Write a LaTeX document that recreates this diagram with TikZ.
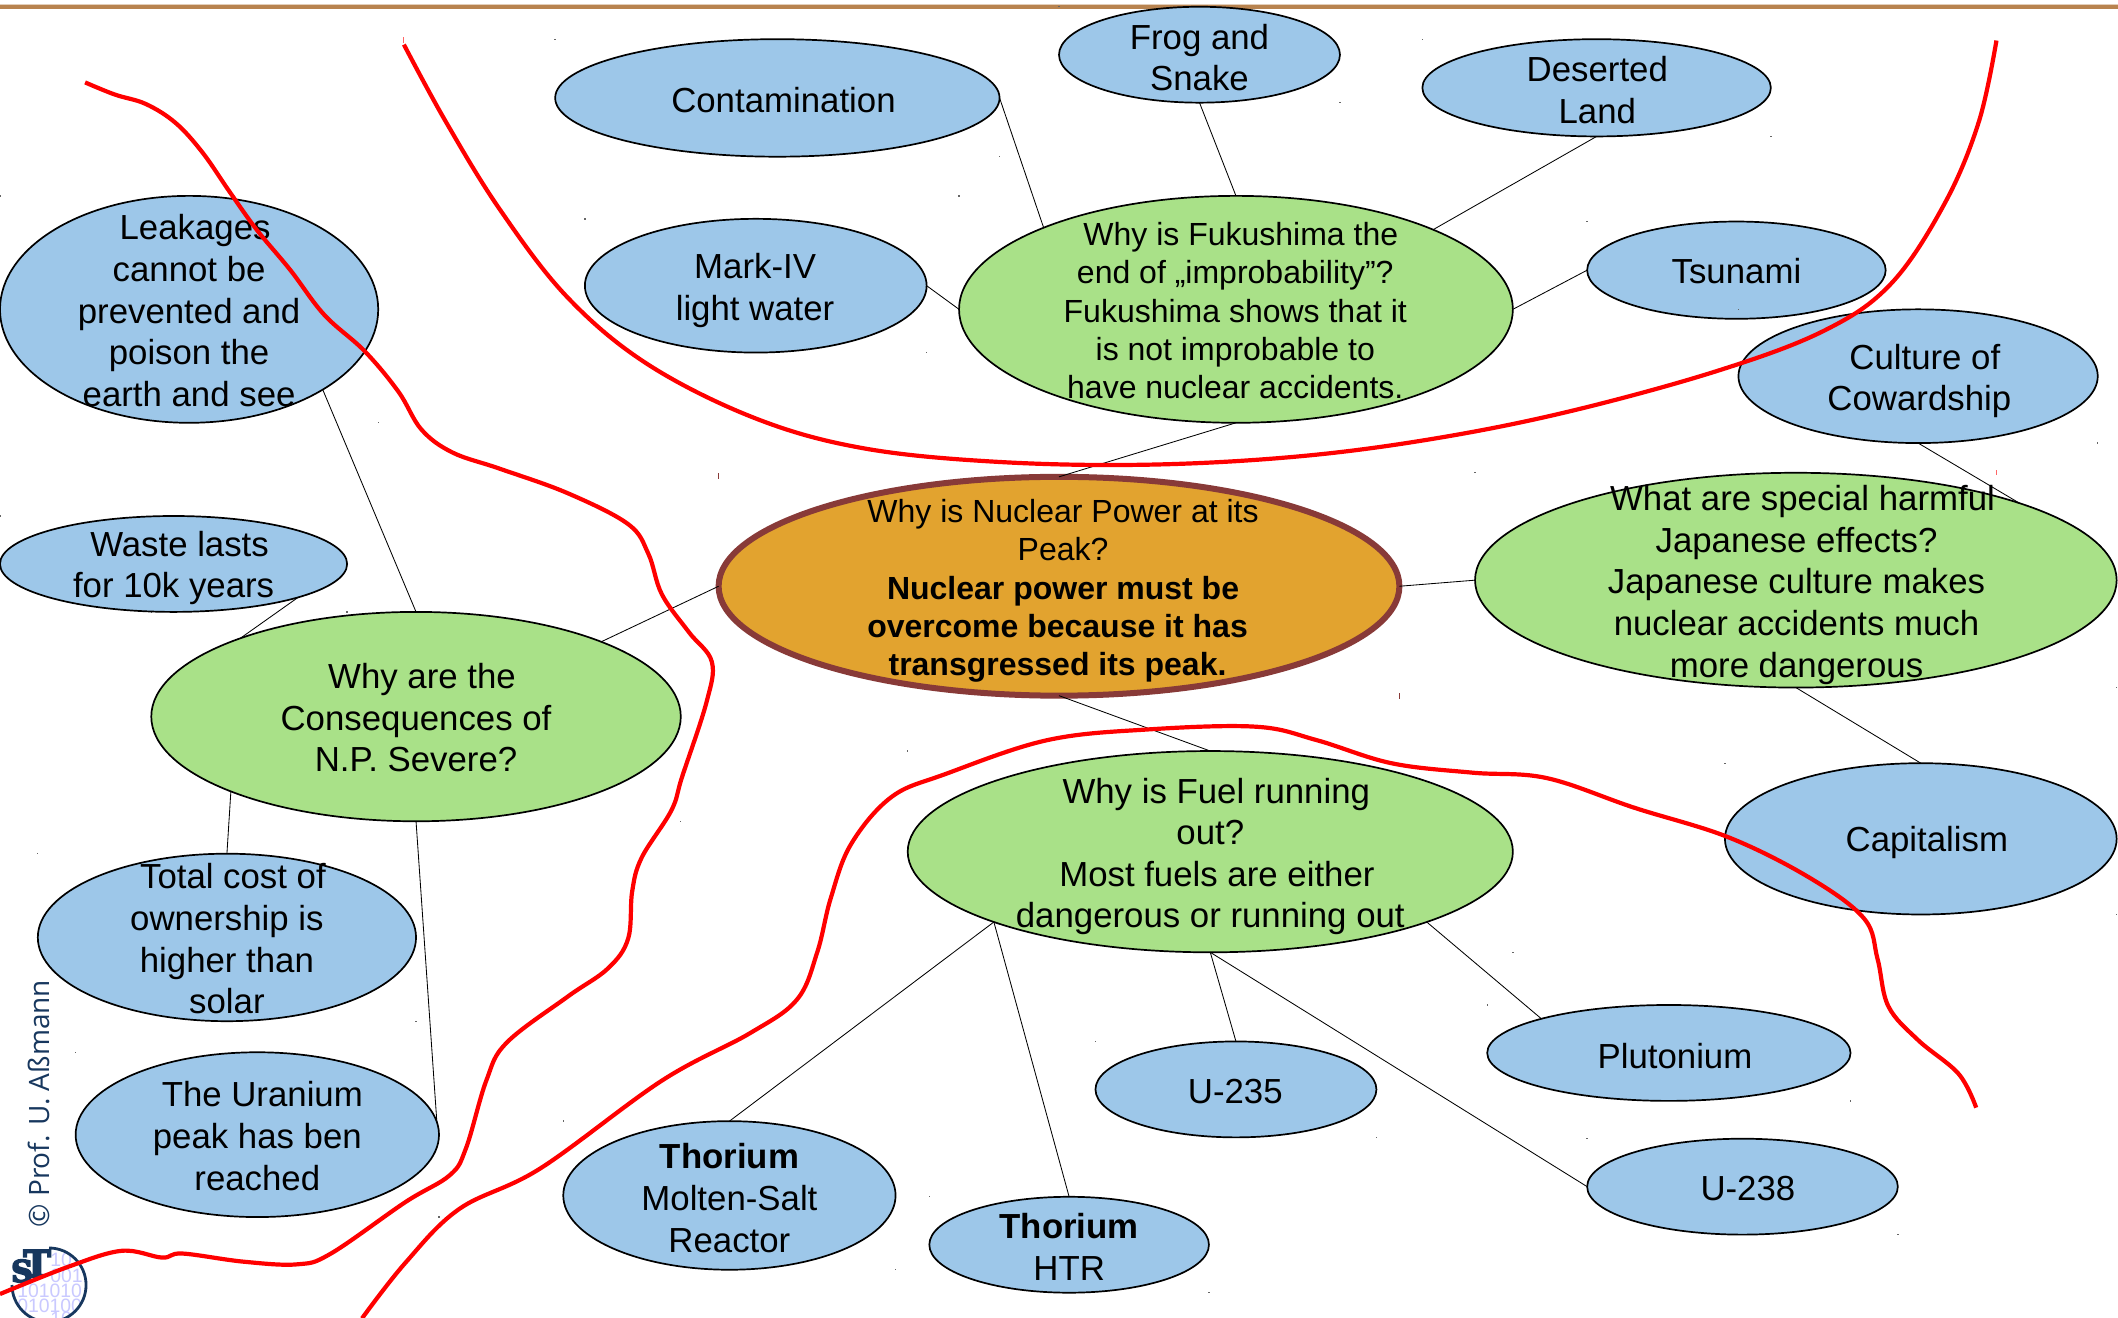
\documentclass[tikz,border=0pt]{standalone}
\usepackage{fontspec}
\setmainfont{Liberation Sans}
\newfontfamily\logofont{DejaVu Serif}
\newfontfamily\cpfont{Open Sans}
\usetikzlibrary{shapes.geometric}
\definecolor{bluefill}{HTML}{9DC7E9}
\definecolor{greenfill}{HTML}{A9E188}
\definecolor{orangefill}{HTML}{E2A32F}
\definecolor{rimcol}{HTML}{883A38}
\definecolor{navy}{HTML}{17375E}
\definecolor{lav}{HTML}{C9C9FF}
\definecolor{toprule}{HTML}{B8834F}
\def\ux{0.6754pt}
\newcommand\heavy[1]{\special{pdf:code 2 Tr 0.9 w}#1\special{pdf:code 0 Tr}}
\tikzset{
  ell/.style={ellipse,draw=black,line width=0.85pt,inner sep=0pt,outer sep=0pt},
  blueell/.style={ell,fill=bluefill},
  greenell/.style={ell,fill=greenfill},
  coreell/.style={ell,fill=orangefill,draw=rimcol,line width=3pt},
  big/.style={align=center,inner sep=0pt,font=\fontsize{17.4}{20.8}\selectfont},
  small/.style={align=center,inner sep=0pt,font=\fontsize{16}{19.15}\selectfont},
  link/.style={draw=black,line width=0.42pt},
  redline/.style={draw=red,line width=2.1pt,line join=round,smooth,tension=0.6},
  bin/.style={inner sep=0pt,text=lav,font=\fontsize{9.7}{10}\selectfont},
  logotext/.style={inner sep=0pt,text=navy},
}
\newcommand\Ell[6]{%
  \node[#2,minimum width={(#4-#3)*\ux},minimum height={(#6-#5)*\ux}] (#1) at ({(#3+#4)/2},{(#5+#6)/2}) {};
  \fill[black!60] (#3-0.5,#5-0.5) rectangle (#3+0.5,#5+0.5);
  \fill[black!60] (#4-0.5,#6-0.5) rectangle (#4+0.5,#6+0.5);
}
\begin{document}
\begin{tikzpicture}[x=\ux,y=-\ux]
\clip (0,0) rectangle (1568,975.7);
\fill[white] (0,0) rectangle (1568,975.7);
\fill[toprule] (0,4) rectangle (1568,6.6);
\fill[toprule!40] (0,3.2) rectangle (1568,4);
% ellipses
\Ell{contam}{blueell}{411}{740}{29}{116}
\Ell{frog}{blueell}{784}{992}{5}{76}
\Ell{desert}{blueell}{1053}{1311}{29}{101}
\Ell{mark}{blueell}{433}{686}{162}{261}
\Ell{fuku}{greenell}{710}{1120}{145}{313}
\Ell{tsu}{blueell}{1175}{1396}{164}{236}
\Ell{cult}{blueell}{1287}{1553}{229}{328}
\Ell{japan}{greenell}{1092}{1567}{350}{509}
\Ell{capi}{blueell}{1277}{1567}{565}{677}
\Ell{core}{coreell}{532}{1036}{353}{515}
\Ell{fuel}{greenell}{672}{1120}{556}{705}
\Ell{pluto}{blueell}{1101}{1370}{744}{815}
\Ell{uii}{blueell}{811}{1019}{771}{842}
\Ell{uiii}{blueell}{1175}{1405}{843}{914}
\Ell{htr}{blueell}{688}{895}{886}{957}
\Ell{msr}{blueell}{417}{663}{830}{940}
\Ell{peak}{blueell}{56}{325}{779}{901}
\Ell{total}{blueell}{28}{308}{632}{756}
\Ell{cons}{greenell}{112}{504}{453}{608}
\Ell{waste}{blueell}{0}{257}{382}{453}
\Ell{leak}{blueell}{0}{280}{145}{313}
% small coloured handle marks
\fill[rimcol] (531.6,350) rectangle (532.4,354.5);
\fill[rimcol] (1035.6,513) rectangle (1036.4,517.5);
\fill[red!60] (298.6,27.5) rectangle (299.4,31.5);
\fill[red!60] (1477.6,348) rectangle (1478.4,352);
% connectors
\draw[link] (contam.east) -- (fuku.157);
\draw[link] (frog.south) -- (fuku.north);
\draw[link] (desert.south) -- (fuku.22.5);
\draw[link] (mark.east) -- (fuku.west);
\draw[link] (tsu.west) -- (fuku.east);
\draw[link] (fuku.south) -- (core.north);
\draw[link] (core.east) -- (japan.west);
\draw[link] (cult.south) -- (japan.19.7);
\draw[link] (japan.south) -- (capi.north);
\draw[link] (core.south) -- (fuel.north);
\draw[link] (core.west) -- (cons.22.1);
\draw[link] (cons.north) -- (leak.-31.4);
\draw[link] (waste.-15.9) -- (cons.156.4);
\draw[link] (cons.202.1) -- (total.north);
\draw[link] (cons.south) -- (peak.4);
\draw[link] (fuel.198.6) -- (msr.north);
\draw[link] (fuel.198.6) -- (htr.north);
\draw[link] (fuel.south) -- (uii.north);
\draw[link] (fuel.south) -- (uiii.west);
\draw[link] (fuel.-18.6) -- (pluto.165.6);
% texts
\node[big] (tcontam) at (580,74) {Contamination};
\node[big] (tfrog) at (888,42.5) {Frog and\\Snake};
\node[big] (tdesert) at (1182.5,66.5) {Deserted\\Land};
\node[big] (tmark) at (559,215) {Mark-IV\\light water};
\node[small] (tfuku) at (914.5,230) {\hspace*{5.5pt}Why is Fukushima the\\end of „improbability”?\\Fukushima shows that it\\is not improbable to\\have nuclear accidents.};
\node[big] (ttsu) at (1285.5,200.5) {Tsunami};
\node[big] (tcult) at (1425,282) {Culture of\\\hspace*{-5.5pt}Cowardship};
\node[big] (tjapan) at (1330,433) {\hspace*{6pt}What are special harmful\\Japanese effects?\\Japanese culture makes\\nuclear accidents much\\more dangerous};
\node[big] (tcapi) at (1426.5,624) {Capitalism};
\node[small] (tcore) at (787,437.5) {Why is Nuclear Power at its\\Peak?\\\textbf{Nuclear power must be}\\\hspace*{-5.5pt}\textbf{overcome because it has}\\\hspace*{-5.5pt}\textbf{transgressed its peak.}};
\node[big] (tfuel) at (896,634) {\hspace*{6pt}Why is Fuel running\\out?\\\hspace*{6.6pt}Most fuels are either\\dangerous or running out};
\node[big] (tpluto) at (1240,781.5) {Plutonium};
\node[big] (tuii) at (914.5,808) {U-235};
\node[big] (tuiii) at (1294,880) {U-238};
\node[big] (thtr) at (791.5,923) {\textbf{Thorium}\\HTR};
\node[big] (tmsr) at (540,887) {\textbf{Thorium}\\Molten-Salt\\Reactor};
\node[big] (tpeak) at (190.5,841) {\hspace*{5pt}The Uranium\\peak has ben\\reached};
\node[big] (ttotal) at (168,695) {\hspace*{6pt}Total cost of\\ownership is\\higher than\\solar};
\node[big] (tcons) at (308,531.5) {\hspace*{6pt}Why are the\\Consequences of\\N.P. Severe?};
\node[big] (twaste) at (128.5,420.5) {\hspace*{6pt}Waste lasts\\for 10k years};
\node[big] (tleak) at (140,230) {\hspace*{6pt}Leakages\\cannot be\\prevented and\\poison the\\earth and see};
% logo and copyright
\begin{scope}
\clip (36.3,951.3) circle (27.4);
\node[bin,anchor=west] (bina) at (37,932.8) {10};
\node[bin,anchor=west] (binb) at (37,944.6) {001};
\node[bin,anchor=west] (binc) at (12.5,955.5) {101010};
\node[bin,anchor=west] (bind) at (12.5,967) {010100};
\node[bin,anchor=west] (bine) at (37,976) {10};
\end{scope}
\draw[navy,line width=1.4pt] (36.3,923.9) arc[start angle=-90,end angle=180,radius=27.4];
\node[logotext,font=\logofont\bfseries\fontsize{18.5}{18.5}\selectfont] (logot) at (27.4,935.4) {\heavy{T}};
\node[logotext,font=\logofont\bfseries\fontsize{15}{15}\selectfont] (logos) at (16.3,941) {\heavy{S}};
\node[inner sep=0pt,text=navy,rotate=90,font=\cpfont\fontsize{14}{16}\selectfont] (copy) at (29,817) {© Prof. U. Aßmann};
% red curves
\draw[redline] plot coordinates {(63,61)(85,70)(108,77)(130,91)(150,113)(170,142)(190,170)(215,200)(240,233)(270,260)(295,290)(312,318)(335,335)(370,347)(420,365)(465,388)(480,410)(490,440)(510,468)(527,490)(523,520)(505,575)(497,600)(475,635)(468,660)(465,695)(450,717)(420,738)(375,772)(360,800)(345,850)(333,870)(300,890)(245,928)(220,936)(180,934)(135,928)(120,931)(90,926)(50,938)(0,958)};
\draw[redline] plot coordinates {(299,33)(330,90)(370,155)(420,220)(480,270)(560,310)(640,332)(740,342)(850,344)(960,338)(1060,325)(1160,305)(1270,275)(1350,245)(1400,210)(1440,150)(1465,90)(1478,30)};
\draw[redline] plot coordinates {(268,976)(300,935)(340,895)(400,865)(490,800)(555,765)(590,740)(605,705)(615,665)(630,625)(660,590)(700,573)(775,548)(850,540)(930,538)(975,548)(1030,565)(1090,572)(1145,576)(1210,598)(1280,620)(1340,650)(1380,680)(1390,710)(1398,745)(1420,770)(1450,795)(1463,820)};
\end{tikzpicture}
\end{document}
